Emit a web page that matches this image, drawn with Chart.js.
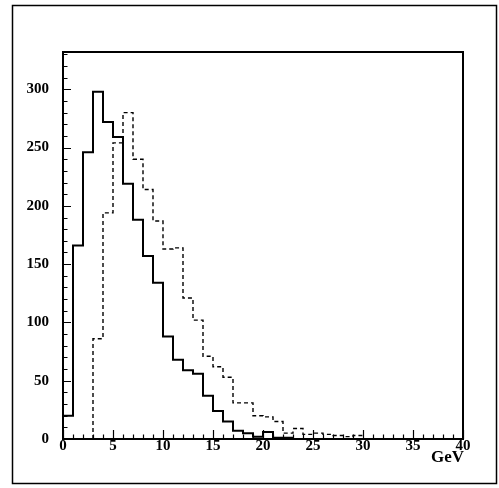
<!DOCTYPE html>
<html>
<head>
<meta charset="utf-8">
<script src="https://cdn.jsdelivr.net/npm/chart.js@4/dist/chart.umd.min.js"></script>
<style>
html,body{margin:0;padding:0;background:#fff;}
canvas{display:block;}
</style>
</head>
<body>
<canvas id="c" width="499" height="488"></canvas>
<script>
// Histogram bins: 1 GeV wide, starting at 0 GeV
const binStart = 0;
const binWidth = 1;
const solidCounts = [20,166,246,298,272,259,219,188,157,134,88,68,59,56,37,24,15,7,5,2,6,1,1];
const dashedCounts = [0,0,0,86,194,254,280,240,214,187,163,164,121,102,71,62,53,31,31,20,19,15,5,9,4,5,4,3,2,3];
const xTicks = [0,5,10,15,20,25,30,35,40];
const yTicks = [0,50,100,150,200,250,300];
const xUnit = 'GeV';

function histPoints(counts) {
  let first = counts.findIndex(v => v > 0);
  let last = counts.length - 1;
  while (last > 0 && counts[last] === 0) last--;
  const pts = [{x: binStart + first * binWidth, y: 0}];
  for (let i = first; i <= last; i++) pts.push({x: binStart + i * binWidth, y: counts[i]});
  pts.push({x: binStart + (last + 1) * binWidth, y: 0});
  return pts;
}

const serif = '"Liberation Serif", "DejaVu Serif", serif';

const framePlugin = {
  id: 'frame',
  afterDraw(chart) {
    const ctx = chart.ctx;
    const a = chart.chartArea;
    const xs = chart.scales.x, ys = chart.scales.y;
    ctx.save();
    ctx.strokeStyle = '#000';
    // outer frame
    ctx.lineWidth = 1.5;
    ctx.strokeRect(12.5, 5.5, 484, 478);
    // inner frame
    ctx.lineWidth = 2;
    ctx.strokeRect(a.left, a.top, a.right - a.left, a.bottom - a.top);
    // inward ticks x
    ctx.lineWidth = 1.2;
    ctx.beginPath();
    for (let v = xs.min; v <= xs.max; v += 1) {
      const px = Math.round(xs.getPixelForValue(v)) + 0.5;
      const len = (v % 5 === 0) ? 9 : 4.5;
      ctx.moveTo(px, a.bottom);
      ctx.lineTo(px, a.bottom - len);
    }
    // inward ticks y
    for (let v = 0; v <= ys.max; v += 10) {
      const py = Math.round(ys.getPixelForValue(v)) + 0.5;
      const len = (v % 50 === 0) ? 8 : 4.5;
      ctx.moveTo(a.left, py);
      ctx.lineTo(a.left + len, py);
    }
    ctx.stroke();
    // unit label
    ctx.fillStyle = '#000';
    ctx.font = 'bold 17px ' + serif;
    ctx.textAlign = 'right';
    ctx.textBaseline = 'alphabetic';
    ctx.fillText(xUnit, a.right + 1, 462);
    ctx.restore();
  }
};

new Chart(document.getElementById('c'), {
  type: 'line',
  data: {
    datasets: [
      {
        data: histPoints(solidCounts),
        borderColor: '#000',
        borderWidth: 2,
        stepped: true,
        pointRadius: 0,
        fill: false
      },
      {
        data: histPoints(dashedCounts),
        borderColor: '#000',
        borderWidth: 1.4,
        borderDash: [4, 3],
        stepped: true,
        pointRadius: 0,
        fill: false
      }
    ]
  },
  options: {
    responsive: false,
    animation: false,
    devicePixelRatio: 1,
    layout: {padding: {left: 0, top: 52, right: 36, bottom: 0}},
    plugins: {legend: {display: false}, tooltip: {enabled: false}},
    scales: {
      x: {
        type: 'linear',
        min: 0,
        max: 40,
        afterFit: s => { s.height = 49; },
        afterBuildTicks: s => { s.ticks = xTicks.map(v => ({value: v})); },
        grid: {display: false, drawTicks: false},
        border: {display: false},
        ticks: {color: '#000', font: {family: serif, size: 15, weight: 'bold'}, padding: -2, maxRotation: 0, autoSkip: false}
      },
      y: {
        type: 'linear',
        min: 0,
        max: 332,
        afterFit: s => { s.width = 63; },
        afterBuildTicks: s => { s.ticks = yTicks.map(v => ({value: v})); },
        grid: {display: false, drawTicks: false},
        border: {display: false},
        ticks: {color: '#000', font: {family: serif, size: 15, weight: 'bold'}, padding: 14, autoSkip: false}
      }
    }
  },
  plugins: [framePlugin]
});
</script>
</body>
</html>
